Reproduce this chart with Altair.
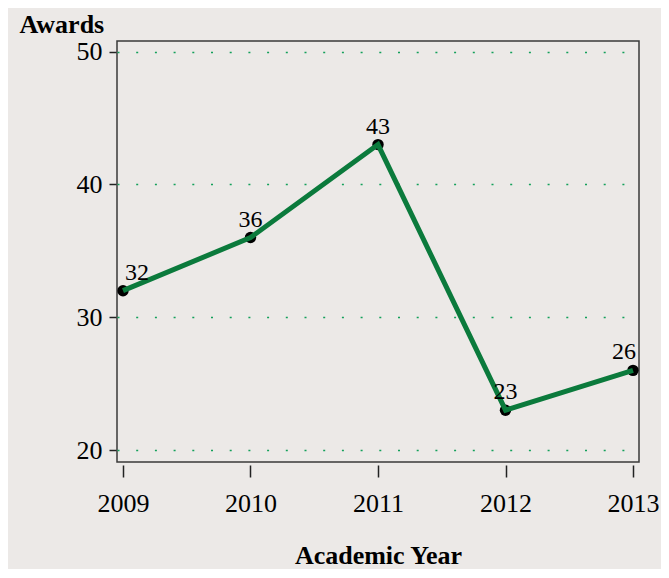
import altair as alt
import pandas as pd

years = [2009, 2010, 2011, 2012, 2013]
awards = [32, 36, 43, 23, 26]
y_ticks = [20, 30, 40, 50]

df = pd.DataFrame({"year": years, "awards": awards})

BG = "#ECE9E7"
LINE = "#0B7A3C"
GRID = "#13A05A"
FONT = "Liberation Serif"

x = alt.X(
    "year:Q",
    scale=alt.Scale(domain=[2008.953, 2013.047], nice=False, zero=False),
    axis=alt.Axis(
        values=years, format="d", title="Academic Year", grid=False,
        domain=False, offset=3, tickSize=12, tickWidth=1.5, tickColor="#222",
        labelPadding=13, labelFontSize=26, labelFont=FONT, labelColor="black",
        titleFont=FONT, titleFontSize=26, titleFontWeight="bold", titleColor="black",
        titleBaseline="alphabetic", titleY=98,
    ),
)
y = alt.Y(
    "awards:Q",
    scale=alt.Scale(domain=[19.1, 50.8], nice=False, zero=False),
    axis=alt.Axis(
        values=y_ticks, title="Awards", grid=True, gridColor=GRID, gridDash=[2, 16.7],
        gridWidth=1.5, domain=False, offset=1, tickSize=7, tickWidth=1.5, tickColor="#222",
        labelPadding=7, labelFontSize=26, labelFont=FONT, labelColor="black",
        titleFont=FONT, titleFontSize=26, titleFontWeight="bold", titleColor="black",
        titleAngle=0, titleAlign="left", titleBaseline="alphabetic", titleX=-97, titleY=-9,
    ),
)

base = alt.Chart(df).encode(x=x, y=y)

points = base.mark_circle(size=130, color="black", opacity=1)
line = base.mark_line(color=LINE, strokeWidth=5)

lab_kw = dict(font=FONT, fontSize=24, color="black", baseline="middle", dy=-18)
lab_mid = base.mark_text(align="center", **lab_kw).encode(text="awards:Q").transform_filter(
    "datum.year > 2009 && datum.year < 2013")
lab_first = base.mark_text(align="left", dx=2, **lab_kw).encode(text="awards:Q").transform_filter(
    "datum.year == 2009")
lab_last = base.mark_text(align="right", dx=3, **lab_kw).encode(text="awards:Q").transform_filter(
    "datum.year == 2013")

chart = (
    alt.layer(points, line, lab_mid, lab_first, lab_last)
    .properties(
        width=522, height=421, background=BG,
        autosize=alt.AutoSizeParams(type="none"),
        padding={"left": 109, "top": 33, "right": 22, "bottom": 107},
    )
    .configure_view(stroke="#3a3a3a", strokeWidth=1.5, fill=BG)
)

chart.save("out.html", embed_options={"renderer": "svg", "actions": False})
